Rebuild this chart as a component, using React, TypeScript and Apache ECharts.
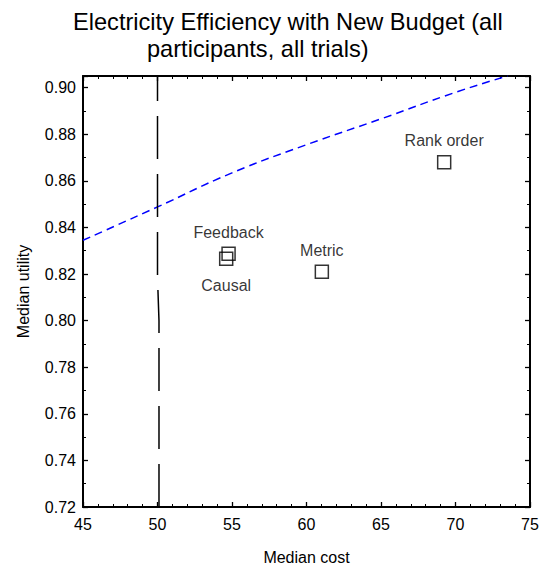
import React, { useEffect, useRef } from "react";
import * as echarts from "echarts";

const FONT = "'Liberation Sans', Arial, Helvetica, sans-serif";

// Efficiency frontier (blue dashed curve)
const frontierCost = [45, 50, 55, 60, 65, 70, 73.5];
const frontierUtility = [0.8345, 0.8488, 0.8634, 0.8755, 0.8866, 0.898, 0.905];

// Budget boundary (black long-dashed line)
const budgetCost = [50.1, 50.1, 50.0, 50.0];
const budgetUtility = [0.72, 0.8, 0.8185, 0.905];

// Conditions
const conditions = ["Feedback", "Causal", "Metric", "Rank order"];
const medianCost = [54.77, 54.61, 61.03, 69.24];
const medianUtility = [0.8287, 0.8266, 0.821, 0.868];

const xTicks = { min: 45, max: 75, interval: 5 };
const yTicks = { min: 0.72, max: 0.905, interval: 0.02 };

export default function App() {
  const ref = useRef<HTMLDivElement>(null);
  useEffect(() => {
    if (!ref.current) return;
    const chart = echarts.init(ref.current, undefined, { renderer: "svg" });
    const axisLine = { show: true, lineStyle: { color: "#000", width: 2 } };
    const axisTick = { show: true, inside: true, length: 5, lineStyle: { color: "#000", width: 1.3 } };
    const minorTick = { show: true, length: 3, lineStyle: { color: "#000", width: 1 } };
    const baseX = {
      type: "value",
      min: xTicks.min,
      max: xTicks.max,
      interval: xTicks.interval,
      axisLine,
      axisTick,
      minorTick: { ...minorTick, splitNumber: 5 },
      splitLine: { show: false },
    };
    const baseY = {
      type: "value",
      min: yTicks.min,
      max: yTicks.max,
      interval: yTicks.interval,
      axisLine,
      axisTick,
      minorTick: { ...minorTick, splitNumber: 2 },
      splitLine: { show: false },
    };
    const labelStyle = (name: string) =>
      name === "Causal"
        ? { position: "bottom", distance: 12 }
        : { position: "top", distance: 6 };
    chart.setOption({
      animation: false,
      backgroundColor: "#fff",
      textStyle: { fontFamily: FONT },
      title: [
        {
          text: "Electricity Efficiency with New Budget (all",
          left: 73,
          top: 10,
          padding: 0,
          textStyle: { fontSize: 23.6, fontWeight: "normal", color: "#000", fontFamily: FONT },
        },
        {
          text: "participants, all trials)",
          left: 147,
          top: 37,
          padding: 0,
          textStyle: { fontSize: 23.6, fontWeight: "normal", color: "#000", fontFamily: FONT },
        },
      ],
      grid: { left: 83, right: 13, top: 76, bottom: 63, containLabel: false },
      xAxis: [
        {
          ...baseX,
          position: "bottom",
          name: "Median cost",
          nameLocation: "middle",
          nameGap: 42,
          nameTextStyle: { fontSize: 16, color: "#000", fontFamily: FONT },
          axisLabel: { fontSize: 16, color: "#000", margin: 9, fontFamily: FONT },
        },
        { ...baseX, position: "top", axisLabel: { show: false } },
      ],
      yAxis: [
        {
          ...baseY,
          position: "left",
          name: "Median utility",
          nameLocation: "middle",
          nameGap: 52,
          nameTextStyle: { fontSize: 16, color: "#000", fontFamily: FONT },
          axisLabel: {
            fontSize: 16,
            color: "#000",
            margin: 7,
            fontFamily: FONT,
            showMaxLabel: false,
            formatter: (v: number) => v.toFixed(2),
          },
        },
        { ...baseY, position: "right", axisLabel: { show: false } },
      ],
      series: [
        {
          type: "line",
          data: frontierCost.map((c, i) => [c, frontierUtility[i]]),
          smooth: true,
          showSymbol: false,
          symbol: "none",
          clip: true,
          lineStyle: { color: "#0000ff", width: 1.5, type: [8, 5] },
          silent: true,
        },
        {
          type: "line",
          data: budgetCost.map((c, i) => [c, budgetUtility[i]]),
          showSymbol: false,
          symbol: "none",
          clip: true,
          lineStyle: { color: "#000", width: 1.5, type: [43, 15] },
          silent: true,
        },
        {
          type: "scatter",
          symbol: "rect",
          symbolSize: 13,
          itemStyle: { color: "rgba(0,0,0,0)", borderColor: "#000", borderWidth: 1.5 },
          data: conditions.map((name, i) => ({
            name,
            value: [medianCost[i], medianUtility[i]],
            label: {
              show: true,
              ...labelStyle(name),
              formatter: name,
              fontSize: 16,
              color: "#000",
              fontFamily: FONT,
            },
          })),
        },
      ],
    });
    return () => chart.dispose();
  }, []);
  return (
    <div
      ref={ref}
      style={{ position: "fixed", left: 0, top: 0, width: 543, height: 570, background: "#fff" }}
    />
  );
}
